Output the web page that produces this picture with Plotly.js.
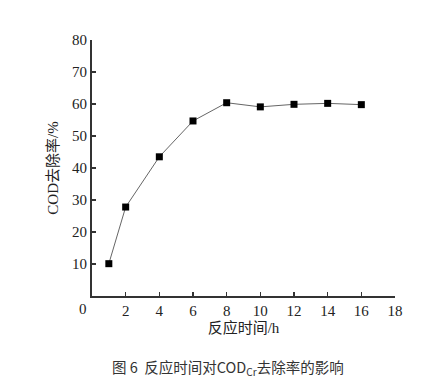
<!DOCTYPE html>
<html><head><meta charset="utf-8">
<script src="https://cdn.plot.ly/plotly-3.0.1.min.js"></script>
<style>html,body{margin:0;padding:0;background:#fff;}#c{width:436px;height:391px;}</style>
</head><body><div id="c"></div>
<script>
const timeH = [1, 2, 4, 6, 8, 10, 12, 14, 16];
const removalRate = [10.1, 27.8, 43.5, 54.7, 60.4, 59.1, 59.9, 60.2, 59.8];
const xTicks = [2, 4, 6, 8, 10, 12, 14, 16, 18];
const yTicks = [10, 20, 30, 40, 50, 60, 70, 80];
const xTitle = '反应时间/h';
const yTitle = 'COD去除率/%';
const caption = '图 6  反应时间对COD<sub>Cr</sub>去除率的影响';

const serif = '"Liberation Serif", "Noto Sans CJK SC", serif';
Plotly.newPlot('c', [{
  x: timeH, y: removalRate, type: 'scatter', mode: 'lines+markers',
  line: {color: '#666', width: 1},
  marker: {symbol: 'square', size: 7, color: '#000'}
}], {
  width: 436, height: 391,
  margin: {l: 92, r: 41, t: 40, b: 95},
  paper_bgcolor: '#fff', plot_bgcolor: '#fff',
  showlegend: false,
  xaxis: {
    range: [0, 18], tickvals: xTicks, ticks: 'inside', ticklen: 4, tickwidth: 1.2, tickcolor: '#333',
    showline: true, linecolor: '#333', linewidth: 2, showgrid: false, zeroline: false,
    tickfont: {family: serif, size: 15, color: '#222'},
    title: {text: xTitle, font: {family: serif, size: 15, color: '#222'}, standoff: 4}
  },
  yaxis: {
    range: [0, 80], tickvals: yTicks, ticks: 'inside', ticklen: 4, tickwidth: 1.2, tickcolor: '#333',
    showline: true, linecolor: '#333', linewidth: 2, showgrid: false, zeroline: false,
    tickfont: {family: serif, size: 15, color: '#222'},
    title: {text: yTitle, font: {family: serif, size: 15, color: '#222'}, standoff: 10}
  },
  annotations: [
    {text: '0', xref: 'x', yref: 'y', x: 0, y: 0, xanchor: 'center', yanchor: 'top',
     xshift: -9, yshift: -3, showarrow: false, font: {family: serif, size: 15, color: '#222'}},
    {text: caption, xref: 'paper', yref: 'paper', x: 0.449, y: -0.281, xanchor: 'center', yanchor: 'middle',
     showarrow: false, font: {family: '"Noto Sans CJK SC", sans-serif', size: 14.5, color: '#333'}}
  ]
}, {displayModeBar: false, staticPlot: true});
</script></body></html>
